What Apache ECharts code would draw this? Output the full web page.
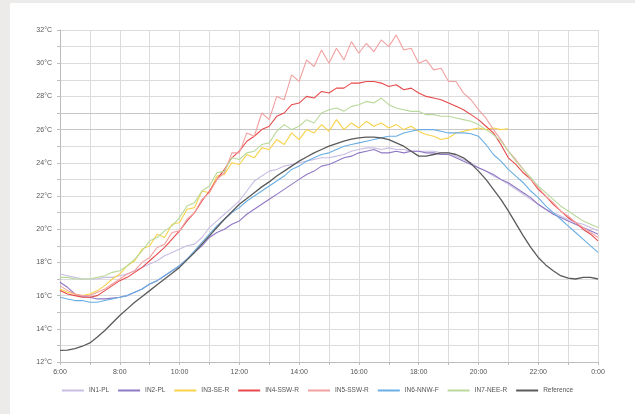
<!DOCTYPE html>
<html>
<head>
<meta charset="utf-8">
<script src="https://cdn.jsdelivr.net/npm/echarts@6/dist/echarts.min.js"></script>
<style>
html,body{margin:0;padding:0;background:#edebea;width:635px;height:414px;overflow:hidden;}
#panel{position:absolute;left:10px;top:3px;width:625px;height:411px;background:#fff;}
#chart{position:absolute;left:0;top:0;width:635px;height:414px;}
</style>
</head>
<body>
<div id="panel"></div>
<div id="chart"></div>
<script>
// time in hours, 15-minute steps from 6:00 to 24:00
const times = [];
for (let i = 0; i <= 72; i++) times.push(6 + i / 4);

const seriesNames = ["IN1-PL","IN2-PL","IN3-SE-R","IN4-SSW-R","IN5-SSW-R","IN6-NNW-F","IN7-NEE-R","Reference"];
const yTicks = [12,14,16,18,20,22,24,26,28,30,32];
const xTicks = [6,8,10,12,14,16,18,20,22,24];
const strongGrid = [26,27];

const in1 = [17.3,17.2,17.1,17.0,17.0,17.0,17.1,17.1,17.2,17.3,17.5,17.7,17.9,18.1,18.4,18.6,18.8,19.0,19.1,19.5,20.1,20.5,20.9,21.3,21.7,22.3,22.9,23.2,23.5,23.6,23.8,23.9,24.0,24.1,24.2,24.3,24.3,24.4,24.5,24.7,24.8,24.9,24.9,24.8,24.9,24.8,24.8,24.7,24.7,24.7,24.7,24.6,24.6,24.4,24.2,24.0,23.7,23.5,23.2,23.0,22.7,22.4,22.1,21.8,21.5,21.2,21.0,20.8,20.6,20.4,20.3,20.1,19.9];
const in2 = [16.8,16.5,16.1,15.95,15.9,15.8,15.8,15.85,15.9,16.0,16.2,16.4,16.7,16.9,17.2,17.5,17.8,18.2,18.6,19.0,19.5,19.8,20.0,20.3,20.5,20.9,21.2,21.5,21.8,22.1,22.4,22.7,23.0,23.3,23.5,23.8,23.9,24.1,24.3,24.4,24.6,24.7,24.8,24.6,24.6,24.7,24.6,24.7,24.7,24.6,24.6,24.5,24.5,24.3,24.1,23.9,23.7,23.5,23.3,23.0,22.8,22.5,22.2,21.9,21.5,21.2,20.9,20.7,20.5,20.3,20.1,19.9,19.7];
const in3 = [16.4,16.2,16.1,16.0,16.1,16.3,16.6,17.0,17.3,17.8,18.1,18.8,19.0,19.7,19.5,20.3,20.4,21.2,21.3,22.3,22.2,23.2,23.3,24.0,23.9,24.5,24.3,24.9,24.8,25.4,25.1,25.8,25.4,26.0,25.8,26.3,25.9,26.6,26.0,26.4,26.1,26.5,26.2,26.4,26.1,26.3,26.0,26.2,25.9,25.7,25.6,25.4,25.5,25.8,25.9,26.0,26.1,26.0,26.1,26.0,26.05,null,null,null,null,null,null,null,null,null,null,null,null];
const in4 = [16.3,16.1,16.0,15.9,15.9,16.0,16.3,16.6,16.9,17.1,17.4,17.7,18.1,18.5,18.9,19.4,19.9,20.5,21.0,21.7,22.3,23.0,23.6,24.3,24.7,25.3,25.6,26.0,26.2,26.8,27.0,27.5,27.6,28.0,27.9,28.3,28.2,28.5,28.5,28.8,28.8,28.9,28.9,28.8,28.6,28.7,28.4,28.5,28.2,28.0,27.9,27.8,27.6,27.4,27.2,26.9,26.6,26.2,25.8,25.1,24.3,23.9,23.4,23.0,22.4,22.0,21.5,21.1,20.7,20.4,20.0,19.7,19.3];
const in5 = [16.6,16.3,16.1,16.0,16.0,16.2,16.4,16.7,17.0,17.3,17.5,18.0,18.3,18.9,19.1,19.8,19.9,20.6,21.0,21.8,22.2,23.0,23.4,24.6,24.6,25.8,25.6,27.0,26.6,28.0,27.8,29.3,28.9,30.2,29.8,30.8,30.0,30.9,30.2,31.3,30.6,31.2,30.7,31.4,31.0,31.7,30.8,30.9,30.0,30.2,29.6,29.7,28.9,28.9,28.2,27.8,27.2,26.7,26.0,25.4,24.7,24.2,23.6,23.0,22.5,22.0,21.6,21.1,20.8,20.4,20.1,19.8,19.5];
const in6 = [15.9,15.8,15.7,15.7,15.6,15.6,15.7,15.8,15.9,16.0,16.2,16.4,16.7,16.9,17.2,17.5,17.8,18.2,18.7,19.2,19.7,20.2,20.6,21.0,21.3,21.7,22.0,22.3,22.6,22.9,23.2,23.6,23.8,24.1,24.3,24.5,24.6,24.8,25.0,25.1,25.2,25.3,25.4,25.5,25.6,25.6,25.8,25.9,26.0,26.0,26.0,25.9,25.8,25.8,25.8,25.75,25.6,25.1,24.5,24.1,23.6,23.2,22.8,22.3,21.9,21.4,21.0,20.6,20.2,19.8,19.4,19.0,18.6];
const in7 = [17.1,17.1,17.0,17.0,17.0,17.1,17.2,17.4,17.5,17.8,18.2,18.7,19.3,19.5,19.9,20.2,20.7,21.4,21.6,22.3,22.6,23.4,23.5,24.3,24.2,24.6,24.7,25.1,25.2,25.9,26.3,26.0,26.2,26.6,26.4,27.0,27.2,27.3,27.1,27.4,27.5,27.7,27.6,27.9,27.5,27.3,27.2,27.1,27.1,26.9,26.9,26.8,26.8,26.7,26.6,26.5,26.3,26.0,25.7,25.3,24.7,24.1,23.6,23.1,22.6,22.2,21.8,21.4,21.1,20.8,20.5,20.3,20.1];
const ref = [12.7,12.72,12.8,12.95,13.15,13.5,13.9,14.35,14.8,15.2,15.6,15.95,16.3,16.65,17.0,17.35,17.7,18.15,18.6,19.1,19.6,20.1,20.6,21.05,21.5,21.85,22.2,22.55,22.85,23.2,23.5,23.8,24.1,24.35,24.6,24.8,25.0,25.15,25.3,25.42,25.5,25.55,25.55,25.5,25.4,25.2,25.0,24.7,24.4,24.4,24.5,24.6,24.6,24.5,24.3,23.95,23.5,23.0,22.4,21.8,21.1,20.35,19.6,18.9,18.3,17.85,17.5,17.2,17.05,17.0,17.1,17.1,17.0];

const values = [in1,in2,in3,in4,in5,in6,in7,ref];
const colors = ["#c9bde3","#8f78c4","#f7d24a","#e8494a","#f2a0a0","#6aaee3","#b9d99a","#5a5a5a"];

const chart = echarts.init(document.getElementById('chart'), null, {renderer:'canvas'});
const series = seriesNames.map((n, k) => ({
  name: n,
  type: 'line',
  data: times.map((t, i) => [t, values[k][i]]),
  showSymbol: false,
  symbol: 'none',
  connectNulls: false,
  lineStyle: {color: colors[k], width: k === 7 ? 1.3 : 1.1},
  itemStyle: {color: colors[k]},
  z: k === 7 ? 3 : 2,
  animation: false,
  markLine: k === 0 ? {
    silent: true, symbol: 'none', label: {show: false},
    lineStyle: {color: '#c6c6c6', width: 1, type: 'solid'},
    z: 1,
    data: strongGrid.map(v => ({yAxis: v}))
  } : undefined
}));

chart.setOption({
  animation: false,
  backgroundColor: 'transparent',
  grid: {left: 60, right: 37, top: 30, bottom: 52},
  xAxis: {
    type: 'value', min: 6, max: 24, interval: 1,
    axisLine: {show: true, lineStyle: {color: '#bdbdbd'}},
    axisTick: {show: true, length: 3, lineStyle: {color: '#bdbdbd'}},
    splitLine: {show: true, lineStyle: {color: '#dcdcdc', width: 1}},
    axisLabel: {
      fontSize: 7, color: '#555', fontFamily: 'Liberation Sans', margin: 7,
      formatter: v => xTicks.indexOf(v) >= 0 ? ((v % 24) + ':00') : ''
    }
  },
  yAxis: {
    type: 'value', min: 12, max: 32, interval: 1,
    axisLine: {show: true, lineStyle: {color: '#bdbdbd'}},
    axisTick: {show: true, length: 3, lineStyle: {color: '#bdbdbd'}},
    splitLine: {show: true, lineStyle: {color: '#dcdcdc', width: 1}},
    axisLabel: {
      fontSize: 7, color: '#555', fontFamily: 'Liberation Sans', margin: 8,
      formatter: v => yTicks.indexOf(v) >= 0 ? (v + '°C') : ''
    }
  },
  legend: {
    bottom: 15, left: 'center',
    itemWidth: 22, itemHeight: 2, itemGap: 9, icon: 'rect',
    textStyle: {fontSize: 6.5, color: '#555', fontFamily: 'Liberation Sans'},
    data: seriesNames
  },
  series: series
});
</script>
</body>
</html>
